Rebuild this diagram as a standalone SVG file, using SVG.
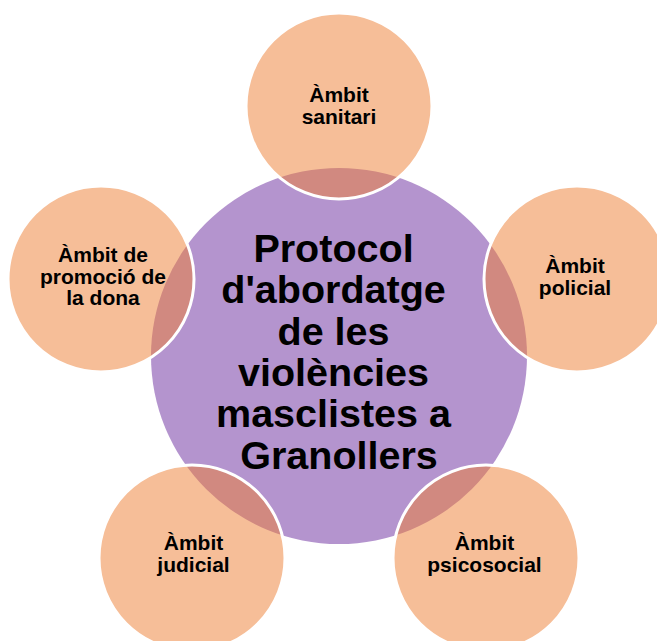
<svg xmlns="http://www.w3.org/2000/svg" width="657" height="641" viewBox="0 0 657 641">
  <style>
    .outer { fill: #ED7D31; fill-opacity: 0.5; stroke: #FFFFFF; stroke-width: 3; }
    .center { fill: #B494CE; }
    .lbl { font-family: "Liberation Sans", Arial, sans-serif; font-weight: bold; font-size: 21px; fill: #000000; text-anchor: middle; }
    .main { font-family: "Liberation Sans", Arial, sans-serif; font-weight: bold; font-size: 39.5px; fill: #000000; text-anchor: middle; }
  </style>
  <rect width="657" height="641" fill="#FFFFFF"/>
  <g id="connectors"></g>
  <g id="node-center">
    <circle class="center" cx="339" cy="356" r="188"/>
  </g>
  <g id="node-sanitari">
    <circle class="outer" cx="339" cy="106" r="93"/>
  </g>
  <g id="node-policial">
    <circle class="outer" cx="577" cy="279" r="93"/>
  </g>
  <g id="node-psicosocial">
    <circle class="outer" cx="486" cy="558" r="93"/>
  </g>
  <g id="node-judicial">
    <circle class="outer" cx="192" cy="558" r="93"/>
  </g>
  <g id="node-promocio">
    <circle class="outer" cx="101" cy="279" r="93"/>
  </g>
  <g id="labels">
    <text class="main" x="339">
      <tspan x="339" y="262">Protocol</tspan>
      <tspan x="339" y="303.3">d'abordatge</tspan>
      <tspan x="339" y="344.6">de les</tspan>
      <tspan x="339" y="385.9">violències</tspan>
      <tspan x="339" y="427.2">masclistes a</tspan>
      <tspan x="339" y="468.5">Granollers</tspan>
    </text>
    <text class="lbl"><tspan x="339" y="102">Àmbit</tspan><tspan x="339" y="123.6">sanitari</tspan></text>
    <text class="lbl"><tspan x="575" y="273">Àmbit</tspan><tspan x="575" y="294.6">policial</tspan></text>
    <text class="lbl"><tspan x="484.5" y="550">Àmbit</tspan><tspan x="484.5" y="571.6">psicosocial</tspan></text>
    <text class="lbl"><tspan x="193.5" y="550">Àmbit</tspan><tspan x="193.5" y="571.6">judicial</tspan></text>
    <text class="lbl"><tspan x="103" y="262">Àmbit de</tspan><tspan x="103" y="283.6">promoció de</tspan><tspan x="103" y="305.2">la dona</tspan></text>
  </g>
</svg>
